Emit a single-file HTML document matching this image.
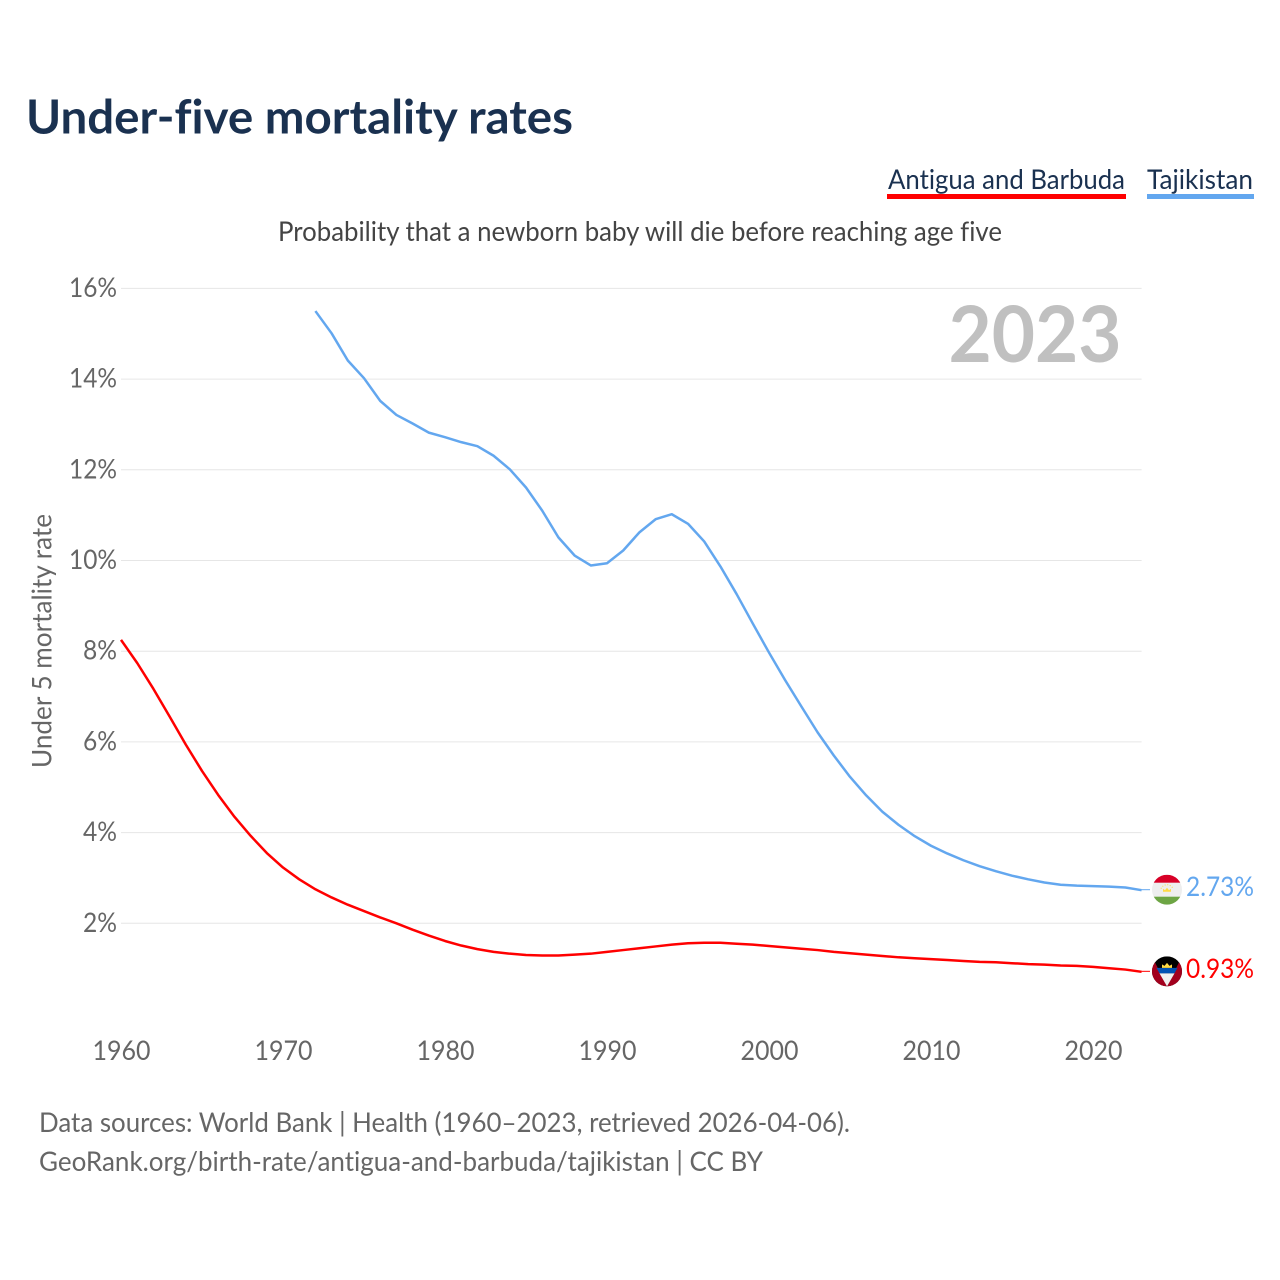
<!DOCTYPE html>
<html lang="en">
<head>
<meta charset="utf-8">
<title>Under-five mortality rates</title>
<style>
html,body{margin:0;padding:0;background:#fff;}
svg{display:block;}
text{font-family:"Lato","Carlito","Liberation Sans",sans-serif;font-variant-ligatures:none;font-feature-settings:"liga" 0,"clig" 0,"dlig" 0;}
</style>
</head>
<body>
<svg id="chart" xmlns="http://www.w3.org/2000/svg" width="1280" height="1280" viewBox="0 0 1280 1280">
  <rect x="0" y="0" width="1280" height="1280" fill="#ffffff"/>
  <text x="26" y="133.5" font-size="47" font-weight="700" fill="#1a3150" textLength="547" lengthAdjust="spacingAndGlyphs">Under-five mortality rates</text>
  <text x="888" y="189" font-size="27.5" fill="#1a3150" textLength="237" lengthAdjust="spacingAndGlyphs">Antigua and Barbuda</text>
  <rect x="887" y="194" width="239" height="5" fill="#ff0000"/>
  <text x="1147" y="189" font-size="27.5" fill="#1a3150" textLength="106" lengthAdjust="spacingAndGlyphs">Tajikistan</text>
  <rect x="1147" y="194" width="107" height="5" fill="#63a7ef"/>
  <text x="278" y="241" font-size="27.5" fill="#444444" textLength="724" lengthAdjust="spacingAndGlyphs">Probability that a newborn baby will die before reaching age five</text>
  <text transform="translate(51.5,641) rotate(-90)" text-anchor="middle" font-size="27.5" fill="#666666" textLength="254" lengthAdjust="spacingAndGlyphs">Under 5 mortality rate</text>
  <g id="grid"></g>
  <g id="yticks"></g>
  <g id="xticks"></g>
  <text x="948.5" y="362" font-size="78" font-weight="700" fill="#c0c0c0" textLength="173" lengthAdjust="spacingAndGlyphs">2023</text>
  <g id="series"></g>
  <defs>
    <clipPath id="flag-clip"><circle cx="0" cy="0" r="15"/></clipPath>
  </defs>
  <g id="flag-tj">
    <g clip-path="url(#flag-clip)">
      <rect x="-15" y="-15" width="30" height="30" fill="#eeeeee"/>
      <rect x="-15" y="-15" width="30" height="8" fill="#d80027"/>
      <rect x="-15" y="7" width="30" height="8" fill="#6da544"/>
      <path d="M-4 2 L-4 -1 L-2 0.5 L0 -2 L2 0.5 L4 -1 L4 2 Z" fill="#ffda44"/>
      <path d="M-6 -1 a6.5 6.5 0 0 1 12 0" fill="none" stroke="#ffda44" stroke-width="1" stroke-dasharray="1 1.6"/>
    </g>
  </g>
  <g id="flag-ag">
    <g clip-path="url(#flag-clip)">
      <rect x="-15" y="-15" width="30" height="30" fill="#000000"/>
      <path d="M-15 -15 L-15 15 L0 15 Z" fill="#a2001d"/>
      <path d="M15 -15 L15 15 L0 15 Z" fill="#a2001d"/>
      <path d="M-10.5 -3.5 L10.5 -3.5 L7.5 2 L-7.5 2 Z" fill="#0052b4"/>
      <path d="M-7.5 2 L7.5 2 L0 15 Z" fill="#f0f0f0"/>
      <path d="M-5 -3.5 L-5 -7 L-2.5 -5.5 L0 -8.5 L2.5 -5.5 L5 -7 L5 -3.5 Z" fill="#ffda44"/>
    </g>
  </g>
  <g id="labels"></g>
  <text x="39" y="1132" font-size="27.5" fill="#666666" textLength="811" lengthAdjust="spacingAndGlyphs">Data sources: World Bank | Health (1960–2023, retrieved 2026-04-06).</text>
  <text x="39" y="1171" font-size="27.5" fill="#666666" textLength="724" lengthAdjust="spacingAndGlyphs">GeoRank.org/birth-rate/antigua-and-barbuda/tajikistan | CC BY</text>
</svg>
<script>
const antiguaStartYear = 1960;
const antiguaValues = [8.25,7.74,7.17,6.56,5.94,5.36,4.83,4.35,3.93,3.55,3.23,2.97,2.75,2.57,2.41,2.27,2.13,2.00,1.86,1.73,1.61,1.51,1.43,1.37,1.33,1.30,1.29,1.29,1.31,1.33,1.37,1.41,1.45,1.49,1.53,1.56,1.57,1.57,1.55,1.53,1.50,1.47,1.44,1.41,1.37,1.34,1.31,1.28,1.25,1.23,1.21,1.19,1.17,1.15,1.14,1.12,1.10,1.09,1.07,1.06,1.04,1.01,0.98,0.93];
const tajikistanStartYear = 1972;
const tajikistanValues = [15.50,15.01,14.41,14.02,13.52,13.21,13.02,12.82,12.72,12.61,12.52,12.31,12.01,11.61,11.10,10.51,10.11,9.89,9.94,10.22,10.62,10.91,11.02,10.81,10.42,9.87,9.26,8.61,7.97,7.36,6.78,6.21,5.70,5.23,4.82,4.46,4.17,3.92,3.71,3.54,3.39,3.26,3.15,3.05,2.97,2.90,2.85,2.83,2.82,2.81,2.79,2.73];
const yTickValues = [2,4,6,8,10,12,14,16];
const xTickYears = [1960,1970,1980,1990,2000,2010,2020];
const NS = 'http://www.w3.org/2000/svg';
function xScale(year){ return 121 + (year - 1960) * 16.2; }
function yScale(v){ return 923.3 - (v - 2) * 45.35; }
const gridG = document.getElementById('grid');
const yG = document.getElementById('yticks');
const xG = document.getElementById('xticks');
yTickValues.forEach(function(v){
  const line = document.createElementNS(NS,'line');
  
  
  line.setAttribute('x1', xScale(1960));
  line.setAttribute('x2', xScale(2023));
  line.setAttribute('y1', yScale(v));
  line.setAttribute('y2', yScale(v));
  line.setAttribute('stroke', '#e6e6e6');
  line.setAttribute('stroke-width', '1');
  gridG.appendChild(line);
  const t = document.createElementNS(NS,'text');
  
  
  t.setAttribute('x', 117);
  t.setAttribute('y', yScale(v) + 8.5);
  t.setAttribute('text-anchor', 'end');
  t.setAttribute('font-size', '27');
  t.setAttribute('fill', '#666666');
  t.setAttribute('textLength', v >= 10 ? 48 : 34);
  t.setAttribute('lengthAdjust', 'spacingAndGlyphs');
  t.textContent = v + '%';
  yG.appendChild(t);
});
xTickYears.forEach(function(yr){
  const t = document.createElementNS(NS,'text');
  
  
  t.setAttribute('x', xScale(yr) + 0.5);
  t.setAttribute('y', 1060);
  t.setAttribute('text-anchor', 'middle');
  t.setAttribute('font-size', '27');
  t.setAttribute('fill', '#666666');
  t.setAttribute('textLength', 58);
  t.setAttribute('lengthAdjust', 'spacingAndGlyphs');
  t.textContent = String(yr);
  xG.appendChild(t);
});
function drawSeries(values, startYear, color, name, flagId){
  const pts = values.map(function(v,i){ return xScale(startYear + i).toFixed(2) + ',' + yScale(v).toFixed(2); });
  const path = document.createElementNS(NS,'polyline');
  
  
  path.setAttribute('points', pts.join(' '));
  path.setAttribute('fill', 'none');
  path.setAttribute('stroke', color);
  path.setAttribute('stroke-width', '2.5');
  path.setAttribute('stroke-linejoin', 'round');
  document.getElementById('series').appendChild(path);
  const last = values[values.length - 1];
  const ly = yScale(last);
  const conn = document.createElementNS(NS,'line');
  
  
  conn.setAttribute('x1', xScale(2023));
  conn.setAttribute('x2', 1150);
  conn.setAttribute('y1', ly - 0.5);
  conn.setAttribute('y2', ly - 0.5);
  conn.setAttribute('stroke', color);
  conn.setAttribute('stroke-width', '1');
  document.getElementById('series').appendChild(conn);
  document.getElementById(flagId).setAttribute('transform', 'translate(1167,' + (ly - 0.5).toFixed(2) + ')');
  const label = document.createElementNS(NS,'text');
  
  
  label.setAttribute('x', 1186);
  label.setAttribute('y', ly + 6);
  label.setAttribute('font-size', '27.5');
  label.setAttribute('fill', color);
  label.setAttribute('textLength', 68);
  label.setAttribute('lengthAdjust', 'spacingAndGlyphs');
  label.textContent = last.toFixed(2) + '%';
  document.getElementById('labels').appendChild(label);
}
drawSeries(tajikistanValues, tajikistanStartYear, '#63a7ef', 'tajikistan', 'flag-tj');
drawSeries(antiguaValues, antiguaStartYear, '#ff0000', 'antigua', 'flag-ag');
</script>
</body>
</html>
